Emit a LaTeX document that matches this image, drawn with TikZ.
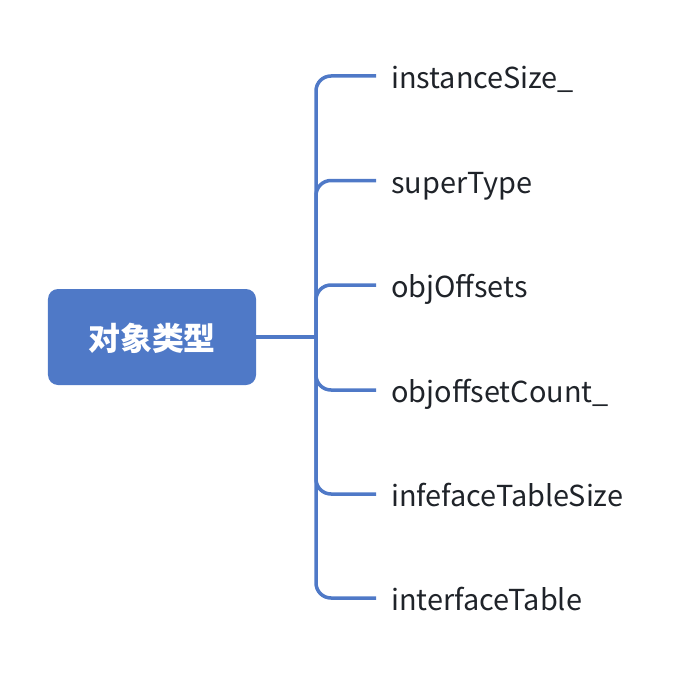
\documentclass[tikz,border=0pt]{standalone}
\usepackage{fontspec}
\setmainfont{Noto Sans CJK SC}
\usepackage{tikz}
\definecolor{mapblue}{RGB}{79,121,199}
\definecolor{leafgray}{RGB}{31,35,41}
\tikzset{
	root/.style={fill=mapblue, rounded corners=10bp, minimum width=208bp, minimum height=96bp, text depth=0pt, text=white, font=\fontsize{32}{38}\selectfont\bfseries},
	leaf/.style={anchor=west, inner xsep=15bp, text height=25bp, text depth=0pt, text=leafgray, font=\fontsize{29}{34}\selectfont},
	branch/.style={draw=mapblue, line width=3.5bp, rounded corners=15bp}
}

\begin{document}
\begin{tikzpicture}[x=1bp, y=-1bp]
		\useasboundingbox (0, 0) rectangle (688, 676);
		
		\node[root] (type) at (152, 337) {对象类型};
		\coordinate (trunk) at (316, 337);
		
		\node[leaf] (size) at (376, 76) {instanceSize\_};
		\node[leaf] (super) at (376, 180.5) {superType};
		\node[leaf] (offsets) at (376, 285) {objOffsets};
		\node[leaf] (count) at (376, 390) {objoffsetCount\_};
		\node[leaf] (tsize) at (376, 494) {infefaceTableSize};
		\node[leaf] (table) at (376, 598) {interfaceTable};
		
		\draw[branch] (type.east) -- (trunk);
		\draw[branch] (trunk) |- (size.west);
		\draw[branch] (trunk) |- (super.west);
		\draw[branch] (trunk) |- (offsets.west);
		\draw[branch] (trunk) |- (count.west);
		\draw[branch] (trunk) |- (tsize.west);
		\draw[branch] (trunk) |- (table.west);
	\end{tikzpicture}
\end{document}
